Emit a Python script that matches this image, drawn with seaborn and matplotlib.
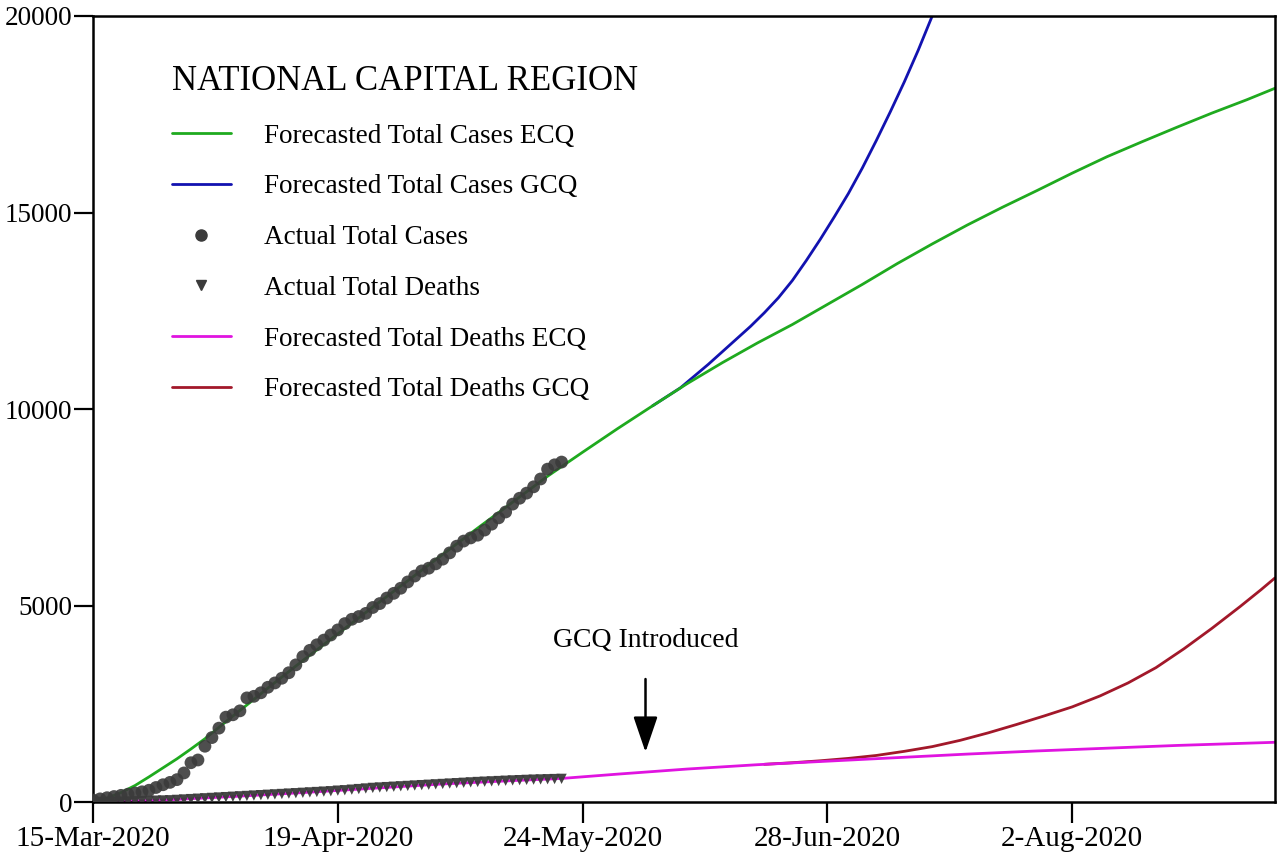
import datetime as dt
import pandas as pd
import seaborn as sns
import matplotlib.pyplot as plt
import matplotlib.dates as mdates
from matplotlib.lines import Line2D

# Day offsets from 15-Mar-2020
START = dt.datetime(2020, 3, 15)

# Actual total cases, one per day (day 0 .. 67)
actual_cases = [50, 80, 110, 140, 170, 200, 230, 260, 300, 370,
                440, 500, 570, 740, 1000, 1070, 1420, 1640, 1880, 2160,
                2220, 2320, 2650, 2690, 2780, 2920, 3030, 3150, 3290, 3490,
                3700, 3860, 4000, 4120, 4250, 4380, 4540, 4650, 4720, 4800,
                4950, 5050, 5190, 5310, 5440, 5600, 5750, 5880, 5950, 6060,
                6180, 6340, 6510, 6640, 6720, 6790, 6920, 7070, 7230, 7380,
                7580, 7730, 7860, 8020, 8220, 8470, 8580, 8650]

# Actual total deaths, one per day (day 0 .. 67)
actual_deaths = [2, 3, 5, 8, 12, 15, 20, 25, 30, 35,
                 40, 45, 55, 65, 75, 85, 95, 105, 115, 125,
                 135, 145, 155, 165, 175, 185, 195, 205, 215, 225,
                 235, 245, 255, 265, 275, 290, 300, 315, 330, 345,
                 360, 370, 380, 390, 400, 410, 420, 430, 440, 450,
                 460, 470, 480, 490, 500, 510, 518, 526, 534, 542,
                 550, 557, 564, 570, 575, 580, 585, 590]

ecq_case_days = [0, 2, 4, 6, 8, 10, 12, 14, 16, 18, 20, 22, 25, 30, 35, 40,
                 45, 50, 55, 60, 65, 70, 75, 80, 85, 90, 95, 100, 105, 110,
                 115, 120, 125, 130, 135, 140, 145, 150, 155, 160, 165, 169]
ecq_cases = [0, 100, 240, 420, 640, 870, 1100, 1350, 1610, 1900, 2190, 2470,
             2900, 3600, 4280, 4960, 5630, 6300, 6970, 7630, 8290, 8900,
             9500, 10080, 10650, 11180, 11680, 12150, 12660, 13170, 13700,
             14200, 14680, 15130, 15560, 16000, 16420, 16800, 17170, 17530,
             17870, 18160]

gcq_case_days = [80, 84, 86, 88, 90, 92, 94, 96, 98, 100, 102, 104, 106, 108,
                 110, 112, 114, 116, 118, 120]
gcq_cases = [10080, 10540, 10840, 11140, 11460, 11780, 12100, 12450, 12830,
             13270, 13780, 14320, 14890, 15480, 16130, 16830, 17560, 18320,
             19130, 20000]

ecq_death_days = [0, 10, 20, 30, 40, 50, 60, 67, 75, 85, 95, 105, 115, 125,
                  135, 145, 155, 169]
ecq_deaths = [0, 50, 140, 240, 350, 460, 545, 600, 710, 840, 950, 1040, 1130,
              1220, 1300, 1370, 1440, 1520]

gcq_death_days = [96, 100, 104, 108, 112, 116, 120, 124, 128, 132, 136, 140,
                  144, 148, 152, 156, 160, 164, 167, 169]
gcq_deaths = [960, 1000, 1050, 1110, 1185, 1290, 1410, 1570, 1760, 1970, 2190,
              2420, 2700, 3030, 3420, 3900, 4420, 4970, 5400, 5700]

tick_days = [0, 35, 70, 105, 140]
y_ticks = [0, 5000, 10000, 15000, 20000]
gcq_day = 79


def to_dates(days):
    return [START + dt.timedelta(days=d) for d in days]


sns.set_style('ticks')
plt.rcParams['font.family'] = ['Liberation Serif', 'DejaVu Serif']
plt.rcParams['text.color'] = 'black'
plt.rcParams['axes.labelcolor'] = 'black'

fig = plt.figure(figsize=(12.8, 8.6), dpi=100)
ax = fig.add_axes([0.0727, 0.0674, 0.9233, 0.914])

green = '#1faa1f'
blue = '#1212b0'
magenta = '#e014e0'
red = '#a2182a'
dot = '#3b3b3b'

sns.lineplot(x=to_dates(gcq_case_days), y=gcq_cases, color=blue, lw=2, ax=ax)
sns.lineplot(x=to_dates(ecq_case_days), y=ecq_cases, color=green, lw=2, ax=ax)
sns.lineplot(x=to_dates(gcq_death_days), y=gcq_deaths, color=red, lw=2, ax=ax)
sns.lineplot(x=to_dates(ecq_death_days), y=ecq_deaths, color=magenta, lw=2,
             ax=ax)

cases_df = pd.DataFrame({'date': to_dates(range(len(actual_cases))),
                         'cases': actual_cases,
                         'deaths': actual_deaths})
sns.scatterplot(data=cases_df, x='date', y='deaths', marker='v', s=55,
                color=dot, edgecolor='none', alpha=0.95, ax=ax, zorder=3)
sns.scatterplot(data=cases_df, x='date', y='cases', marker='o', s=85,
                color=dot, edgecolor='none', alpha=0.9, ax=ax, zorder=3)

ax.set_xlim(START, START + dt.timedelta(days=169))
ax.set_ylim(0, 20000)
ax.set_xticks(to_dates(tick_days))
ax.xaxis.set_major_formatter(mdates.DateFormatter('%-d-%b-%Y'))
ax.set_yticks(y_ticks)
ax.set_xlabel('')
ax.set_ylabel('')
ax.tick_params(axis='x', length=15, width=1.6, direction='out',
               labelsize=21, pad=2, colors='black')
ax.tick_params(axis='y', length=14, width=1.6, direction='out',
               labelsize=19.5, pad=1, colors='black')
for spine in ax.spines.values():
    spine.set_visible(True)
    spine.set_linewidth(1.8)
    spine.set_color('black')

# GCQ annotation
gcq_x = START + dt.timedelta(days=gcq_day)
ax.annotate('', xy=(gcq_x, 1200), xytext=(gcq_x, 3200),
            arrowprops=dict(arrowstyle='-|>,head_length=2.2,head_width=0.75',
                            color='black', lw=1.8))
ax.text(gcq_x, 4100, 'GCQ Introduced', ha='center', va='center', fontsize=20)

handles = [
    Line2D([], [], color=green, lw=2),
    Line2D([], [], color=blue, lw=2),
    Line2D([], [], color=dot, marker='o', ls='none', markersize=8),
    Line2D([], [], color=dot, marker='v', ls='none', markersize=7),
    Line2D([], [], color=magenta, lw=2),
    Line2D([], [], color=red, lw=2),
]
labels = ['Forecasted Total Cases ECQ', 'Forecasted Total Cases GCQ',
          'Actual Total Cases', 'Actual Total Deaths',
          'Forecasted Total Deaths ECQ', 'Forecasted Total Deaths GCQ']
leg = ax.legend(handles, labels, title='NATIONAL CAPITAL REGION',
                loc='upper left', bbox_to_anchor=(0.055, 0.955),
                frameon=False, fontsize=19.5, title_fontsize=25,
                handlelength=2.2, handletextpad=1.2, labelspacing=0.95,
                borderpad=0, alignment='left')
for text in leg.get_texts():
    text.set_color('black')
leg.get_title().set_color('black')

fig.savefig('out.png', dpi=100)
